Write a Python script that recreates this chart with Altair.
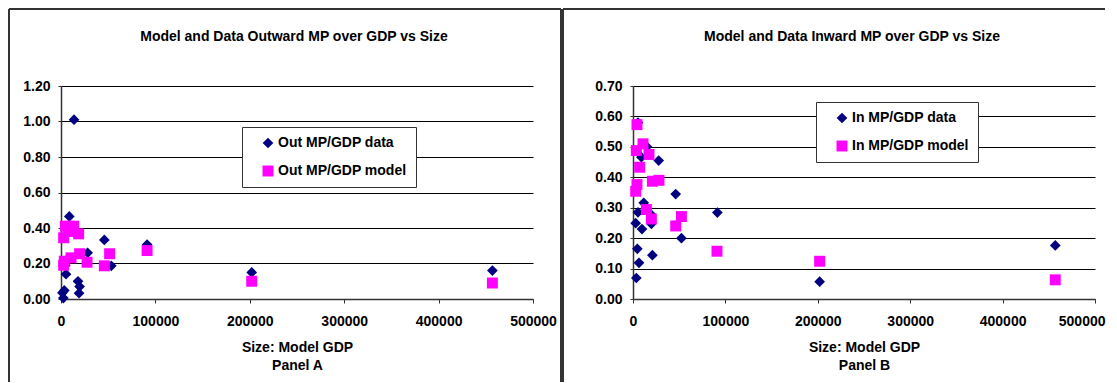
import altair as alt
import pandas as pd

FONT = "Liberation Sans"
NAVY = "#000080"
PINK = "#FF00FF"
BORDER = "#333333"

# ---------------- data ----------------
# Panel A: outward MP / GDP
out_data_size = [13800, 8800, 45900, 91200, 28200, 53300, 4600, 5300, 18000,
                 19700, 19100, 3500, 2500, 1500, 6000, 202000, 457000]
out_data_ratio = [1.01, 0.465, 0.333, 0.307, 0.26, 0.187, 0.19, 0.14, 0.10,
                  0.07, 0.033, 0.048, 0.005, 0.035, 0.22, 0.15, 0.16]
out_model_size = [2800, 4600, 9000, 13400, 18700, 8000, 3500, 2800, 10600,
                  19700, 27600, 51500, 45900, 91200, 202000, 457000]
out_model_ratio = [0.345, 0.41, 0.41, 0.41, 0.367, 0.38, 0.213, 0.19, 0.232,
                   0.255, 0.207, 0.255, 0.187, 0.273, 0.10, 0.09]

# Panel B: inward MP / GDP
in_data_size = [5400, 15100, 9100, 27800, 46200, 11600, 5400, 18800, 2900,
                9700, 19900, 91300, 52400, 4700, 21000, 6500, 3600, 202000, 457000]
in_data_ratio = [0.58, 0.50, 0.466, 0.455, 0.345, 0.316, 0.285, 0.28, 0.249,
                 0.23, 0.247, 0.284, 0.20, 0.165, 0.144, 0.119, 0.069, 0.057, 0.176]
in_model_size = [4300, 10800, 3600, 17300, 7200, 4300, 2900, 21000, 28100,
                 14500, 19900, 46200, 52400, 90900, 202000, 457000]
in_model_ratio = [0.573, 0.51, 0.488, 0.475, 0.433, 0.376, 0.354, 0.387, 0.39,
                  0.294, 0.263, 0.24, 0.271, 0.157, 0.124, 0.063]

x_ticks = [0, 100000, 200000, 300000, 400000, 500000]
out_y_ticks = [0.0, 0.2, 0.4, 0.6, 0.8, 1.0, 1.2]
in_y_ticks = [0.0, 0.1, 0.2, 0.3, 0.4, 0.5, 0.6, 0.7]
out_labels = ["Out MP/GDP data", "Out MP/GDP model"]
in_labels = ["In MP/GDP data", "In MP/GDP model"]
titles = ["Model and Data Outward MP over GDP vs Size",
          "Model and Data Inward MP over GDP vs Size"]
x_title = "Size: Model GDP"
panel_names = ["Panel A", "Panel B"]


def make_panel(ds, dr, ms, mr, labels, y_ticks, title, panel_name,
               W, H, leg_x, leg_y, title_x, left, right, draw_right,
               last_label_shift):
    df = pd.DataFrame({
        "size": ds + ms,
        "ratio": dr + mr,
        "series": [labels[0]] * len(ds) + [labels[1]] * len(ms),
        "order": list(range(len(ds) + len(ms))),
    })
    leg = alt.Legend(
        orient="none", legendX=leg_x, legendY=leg_y, title=None,
        labelFont=FONT, labelFontSize=14, labelFontWeight="bold",
        labelColor="black", symbolSize=110, symbolStrokeWidth=0,
        padding=9, rowPadding=14, strokeColor=BORDER, fillColor="white",
        symbolOffset=10, labelOffset=3,
        labelExpr="datum.label + '\u00a0\u00a0\u00a0\u00a0\u00a0'",
    )
    x_axis_kwargs = dict(values=x_ticks, format="d",
                         title=[x_title, panel_name], grid=False,
                         labelFlush=False, labelOverlap=False,
                         tickSize=4, labelPadding=11, titlePadding=12,
                         titleLineHeight=18)
    if last_label_shift:
        x_axis_kwargs["labelAlign"] = {
            "condition": {"test": "datum.value == 500000", "value": "right"},
            "value": "center"}
        x_axis_kwargs["labelOffset"] = {
            "condition": {"test": "datum.value == 500000",
                          "value": last_label_shift},
            "value": 0}
    pts = alt.Chart(df).mark_point(filled=True, opacity=1).encode(
        x=alt.X("size:Q",
                scale=alt.Scale(domain=[0, 500000], nice=False, zero=True),
                axis=alt.Axis(**x_axis_kwargs)),
        y=alt.Y("ratio:Q",
                scale=alt.Scale(domain=[0, y_ticks[-1]], nice=False),
                axis=alt.Axis(values=y_ticks, format=".2f", title=None,
                              grid=True, tickSize=3, labelPadding=8,
                              labelOverlap=False)),
        color=alt.Color("series:N",
                        scale=alt.Scale(domain=labels, range=[NAVY, PINK]),
                        legend=leg),
        shape=alt.Shape("series:N",
                        scale=alt.Scale(domain=labels, range=["diamond", "square"]),
                        legend=leg),
        size=alt.Size("series:N",
                      scale=alt.Scale(domain=labels, range=[115, 120]),
                      legend=None),
        order="order:Q",
    )
    ttl = alt.Chart(pd.DataFrame({"t": [title]})).mark_text(
        font=FONT, fontSize=14, fontWeight="bold", baseline="alphabetic",
        align="center", color="black"
    ).encode(text="t:N", x=alt.value(title_x), y=alt.value(-45))

    one = pd.DataFrame({"k": [0]})
    lrule = alt.Chart(one).mark_rule(color=BORDER, strokeWidth=2).encode(
        x=alt.value(left), y=alt.value(-77), y2=alt.value(H + 83))
    trule = alt.Chart(one).mark_rule(color=BORDER, strokeWidth=2).encode(
        x=alt.value(left), x2=alt.value(right), y=alt.value(-77))
    layers = [lrule, trule]
    if draw_right:
        rrule = alt.Chart(one).mark_rule(color=BORDER, strokeWidth=2).encode(
            x=alt.value(right), y=alt.value(-77), y2=alt.value(H + 83))
        layers.append(rrule)
    return alt.layer(*layers, pts, ttl).properties(width=W, height=H)


WA, WB, H = 472, 462, 213
panel_a = make_panel(out_data_size, out_data_ratio, out_model_size,
                     out_model_ratio, out_labels, out_y_ticks, titles[0],
                     panel_names[0], WA, H, 181, 41, 233, -52, WA + 28, True,
                     0)
panel_b = make_panel(in_data_size, in_data_ratio, in_model_size,
                     in_model_ratio, in_labels, in_y_ticks, titles[1],
                     panel_names[1], WB, H, 183, 16, 219, -70, 472, False,
                     10)

chart = alt.hconcat(panel_a, panel_b, spacing=0).resolve_scale(
    color="independent", shape="independent", size="independent"
).resolve_legend(
    color="independent", shape="independent"
).properties(
    padding=0, background="white"
).configure(font=FONT).configure_view(stroke=None).configure_axis(
    labelFont=FONT, labelFontSize=14, labelFontWeight="bold",
    labelColor="black", titleFont=FONT, titleFontSize=14,
    titleFontWeight="bold", titleColor="black",
    domainColor=BORDER, domainWidth=1.5, tickColor=BORDER,
    gridColor="black", gridWidth=1, gridOpacity=1,
)

chart.save("out.html", embed_options={"renderer": "svg", "actions": False})
